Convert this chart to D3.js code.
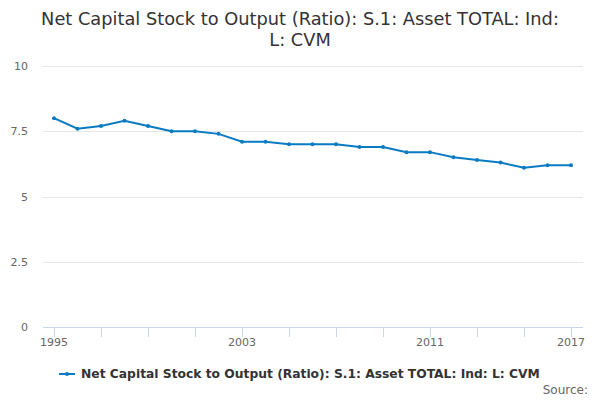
<!DOCTYPE html>
<html><head><meta charset="utf-8">
<script src="https://cdn.jsdelivr.net/npm/d3@7"></script>
<style>body{margin:0;background:#fff}svg{display:block;font-family:"DejaVu Sans",sans-serif}</style>
</head><body><svg id="c" width="600" height="400"></svg>
<script>
const years = [1995,1996,1997,1998,1999,2000,2001,2002,2003,2004,2005,2006,2007,2008,2009,2010,2011,2012,2013,2014,2015,2016,2017];
const values = [8.0,7.6,7.7,7.9,7.7,7.5,7.5,7.4,7.1,7.1,7.0,7.0,7.0,6.9,6.9,6.7,6.7,6.5,6.4,6.3,6.1,6.2,6.2];
const yTicks = [0,2.5,5,7.5,10];
const xTickYears = [1995,1997,1999,2001,2003,2005,2007,2009,2011,2013,2015,2017];
const xLabelYears = [1995,2003,2011,2017];
const titleLines = ["Net Capital Stock to Output (Ratio): S.1: Asset TOTAL: Ind:","L: CVM"];
const seriesName = "Net Capital Stock to Output (Ratio): S.1: Asset TOTAL: Ind: L: CVM";

(function(){
const svg = d3.select("#c");
const pL=43, pR=583, pT=66, pB=327;
const x = d3.scaleLinear().domain([1995,2017]).range([54,571]);
const y = d3.scaleLinear().domain([0,10]).range([pB,pT]);
const color = "#0a7bc2";

// title
svg.append("text").attr("x",300).attr("y",25).attr("text-anchor","middle")
  .attr("font-size",17.8).attr("fill","#333").selectAll("tspan").data(titleLines).join("tspan")
  .attr("x",300).attr("dy",(d,i)=>i?21:0).text(d=>d);

// grid
svg.append("g").selectAll("line").data(yTicks.filter(d=>d>0)).join("line")
  .attr("x1",pL).attr("x2",pR).attr("y1",d=>Math.round(y(d))+0.5).attr("y2",d=>Math.round(y(d))+0.5)
  .attr("stroke","#e6e6e6");
svg.append("g").selectAll("text").data(yTicks).join("text")
  .attr("x",28).attr("y",d=>y(d)+4).attr("text-anchor","end").attr("font-size",11).attr("fill","#666")
  .text(d=>d);

// x axis
svg.append("line").attr("x1",pL).attr("x2",pR).attr("y1",pB+0.5).attr("y2",pB+0.5).attr("stroke","#ccd6eb");
svg.append("g").selectAll("line").data(xTickYears).join("line")
  .attr("x1",d=>Math.round(x(d))+0.5).attr("x2",d=>Math.round(x(d))+0.5).attr("y1",pB).attr("y2",pB+10)
  .attr("stroke","#ccd6eb");
svg.append("g").selectAll("text").data(xLabelYears).join("text")
  .attr("x",d=>x(d)).attr("y",pB+19).attr("text-anchor","middle").attr("font-size",11).attr("fill","#666")
  .text(d=>d);

// line
const line = d3.line().x((d,i)=>x(years[i])).y(d=>y(d));
svg.append("path").datum(values).attr("d",line).attr("fill","none").attr("stroke",color).attr("stroke-width",2);
svg.append("g").selectAll("circle").data(values).join("circle")
  .attr("cx",(d,i)=>x(years[i])).attr("cy",d=>y(d)).attr("r",2).attr("fill",color);

// legend
const lg = svg.append("g");
lg.append("line").attr("x1",59).attr("x2",75).attr("y1",374).attr("y2",374).attr("stroke",color).attr("stroke-width",2);
lg.append("circle").attr("cx",67).attr("cy",374).attr("r",2).attr("fill",color);
lg.append("text").attr("x",81).attr("y",378).attr("font-size",12.3).attr("font-weight","bold").attr("fill","#333").text(seriesName);

svg.append("text").attr("x",588).attr("y",394).attr("text-anchor","end").attr("font-size",12).attr("fill","#666").text("Source:");
})();
</script></body></html>
